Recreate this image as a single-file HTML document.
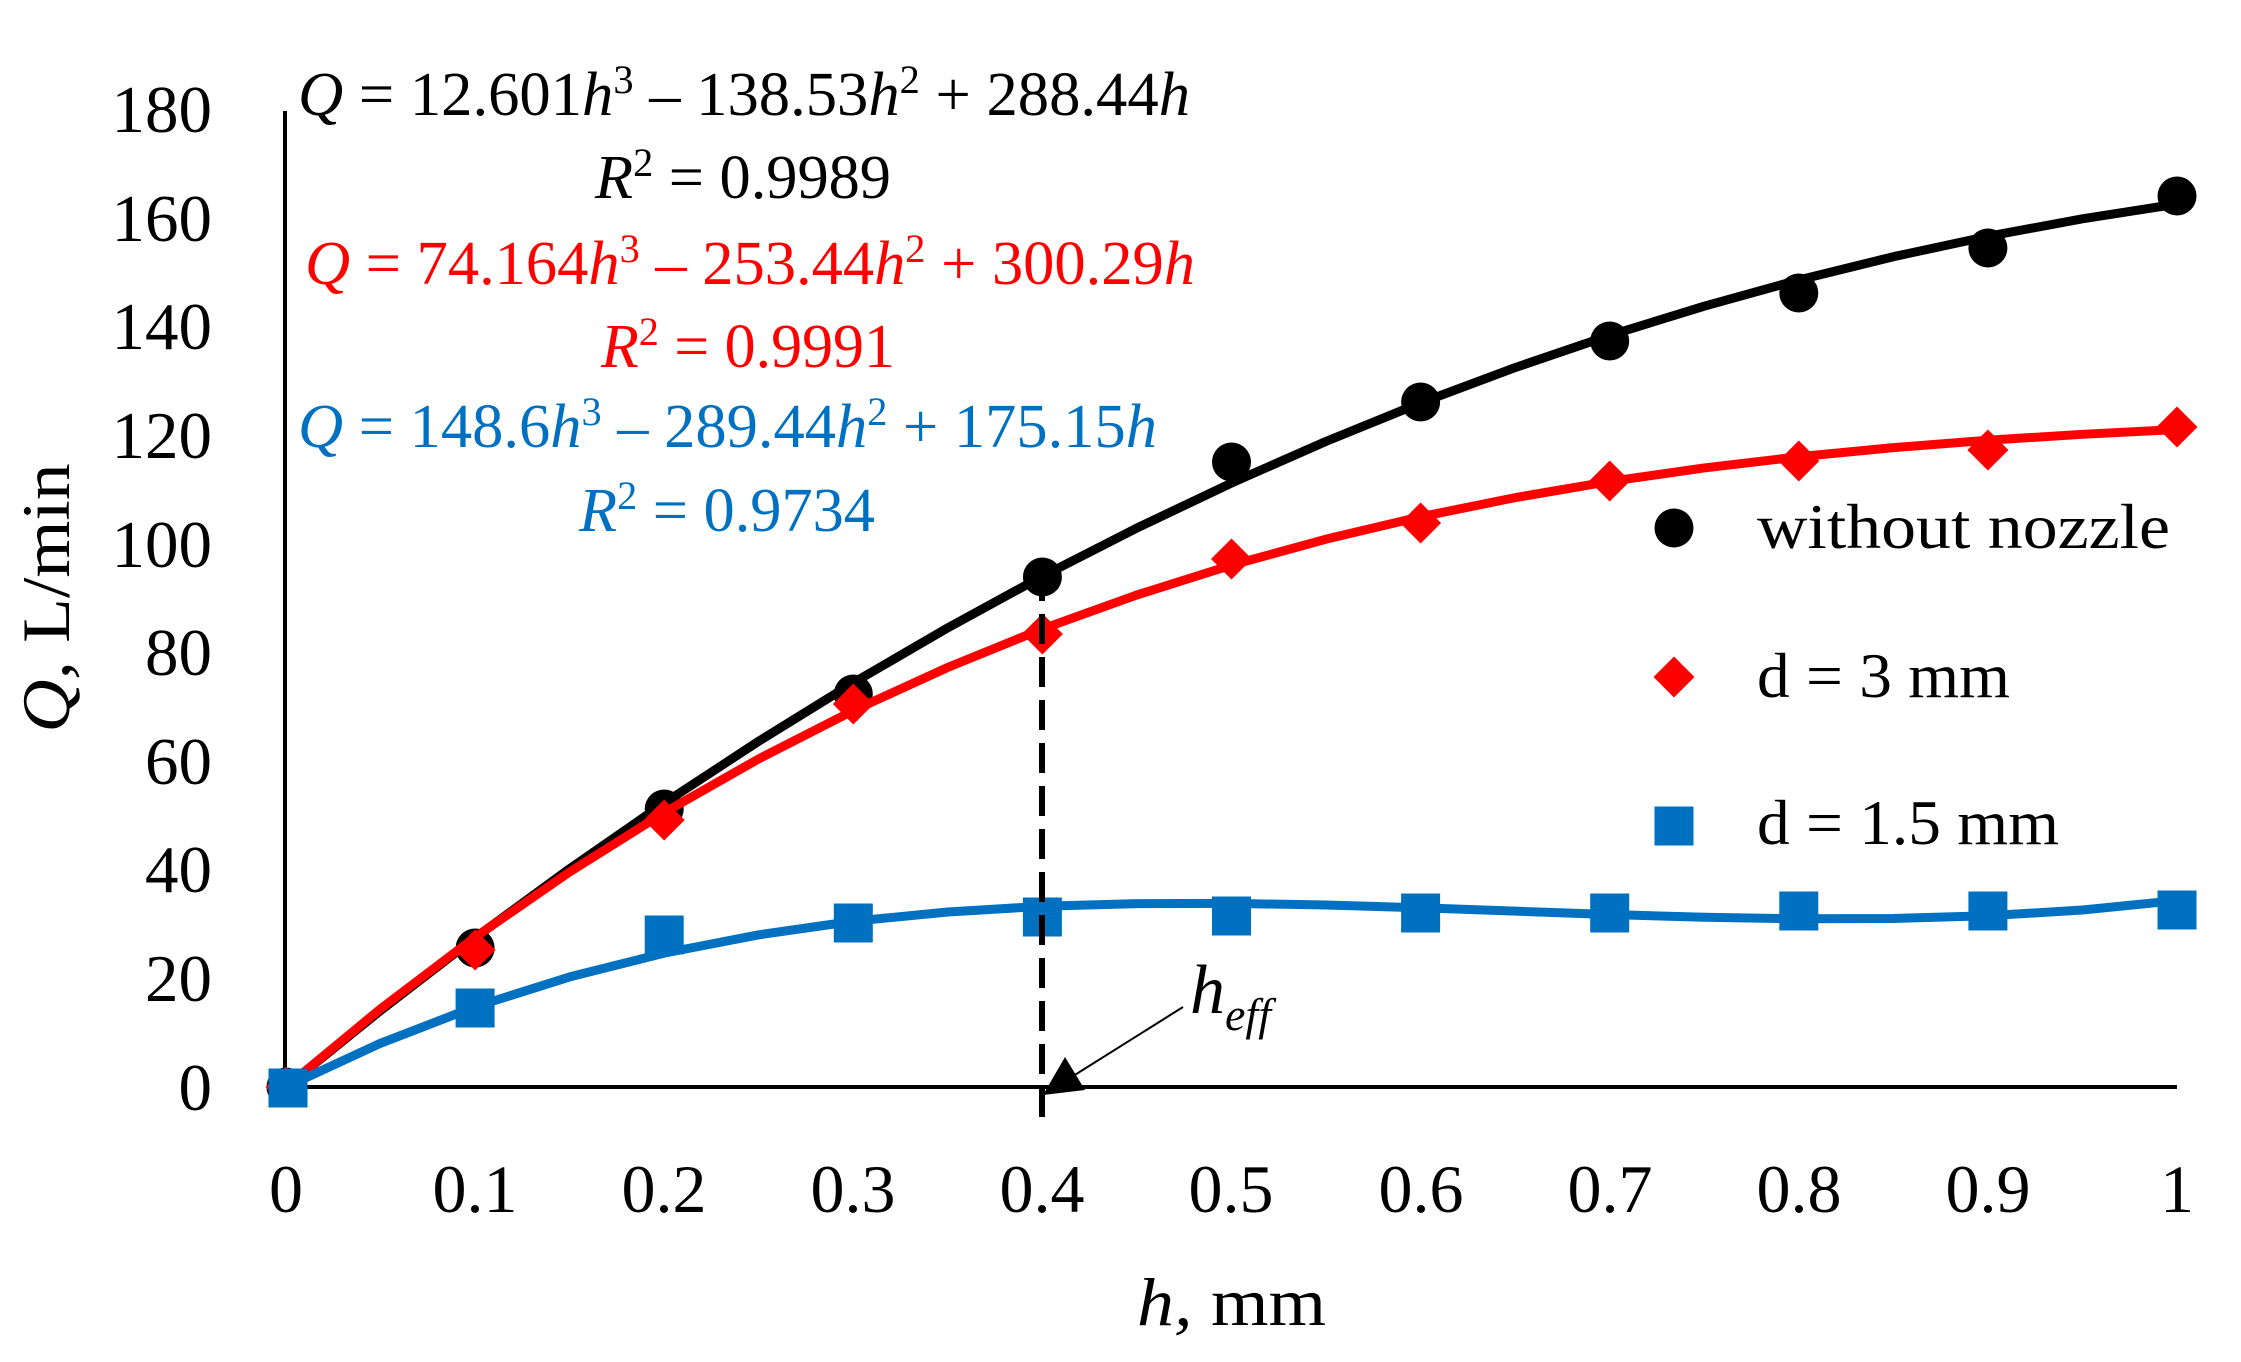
<!DOCTYPE html>
<html>
<head>
<meta charset="utf-8">
<style>
  html,body{margin:0;padding:0;background:#fff;}
  svg{display:block;}
  text{font-family:"Liberation Serif", serif;}
</style>
</head>
<body>
<svg width="2241" height="1362" viewBox="0 0 2241 1362" xmlns="http://www.w3.org/2000/svg">
  <defs>
    <path id="dia" d="M0,-20.5 L20.5,0 L0,20.5 L-20.5,0Z"/>
    <rect id="sq" x="-19.5" y="-19.5" width="39" height="39"/>
  </defs>
  <rect x="0" y="0" width="2241" height="1362" fill="#fff"/>

  <!-- axes -->
  <line x1="285" y1="111" x2="285" y2="1089" stroke="#000" stroke-width="4"/>
  <line x1="283" y1="1087" x2="2177" y2="1087" stroke="#000" stroke-width="4"/>

  <!-- y tick labels -->
  <g font-size="67" text-anchor="end" fill="#000">
    <text x="212" y="1110">0</text>
    <text x="212" y="1001">20</text>
    <text x="212" y="892">40</text>
    <text x="212" y="784">60</text>
    <text x="212" y="675">80</text>
    <text x="212" y="567">100</text>
    <text x="212" y="458">120</text>
    <text x="212" y="349">140</text>
    <text x="212" y="241">160</text>
    <text x="212" y="132">180</text>
  </g>

  <!-- x tick labels -->
  <g font-size="68" text-anchor="middle" fill="#000">
    <text x="286" y="1212">0</text>
    <text x="475" y="1212">0.1</text>
    <text x="664" y="1212">0.2</text>
    <text x="853" y="1212">0.3</text>
    <text x="1042" y="1212">0.4</text>
    <text x="1231" y="1212">0.5</text>
    <text x="1421" y="1212">0.6</text>
    <text x="1610" y="1212">0.7</text>
    <text x="1799" y="1212">0.8</text>
    <text x="1988" y="1212">0.9</text>
    <text x="2177" y="1212">1</text>
  </g>

  <!-- axis titles -->
  <text x="1137" y="1325" font-size="68" textLength="189" lengthAdjust="spacingAndGlyphs"><tspan font-style="italic">h,</tspan> mm</text>
  <text transform="translate(69,598) rotate(-90)" font-size="68" text-anchor="middle" textLength="269" lengthAdjust="spacingAndGlyphs"><tspan font-style="italic">Q,</tspan> L/min</text>

  <!-- equations -->
  <g font-size="62">
    <text x="298" y="115" fill="#000" textLength="892" lengthAdjust="spacingAndGlyphs"><tspan font-style="italic">Q</tspan> = 12.601<tspan font-style="italic">h</tspan><tspan font-size="40" dy="-22">3</tspan><tspan dy="22"> – 138.53</tspan><tspan font-style="italic">h</tspan><tspan font-size="40" dy="-22">2</tspan><tspan dy="22"> + 288.44</tspan><tspan font-style="italic">h</tspan></text>
    <text x="595" y="198" fill="#000" textLength="296" lengthAdjust="spacingAndGlyphs"><tspan font-style="italic">R</tspan><tspan font-size="40" dy="-22">2</tspan><tspan dy="22"> = 0.9989</tspan></text>

    <text x="305" y="284" fill="#FF0000" textLength="890" lengthAdjust="spacingAndGlyphs"><tspan font-style="italic">Q</tspan> = 74.164<tspan font-style="italic">h</tspan><tspan font-size="40" dy="-22">3</tspan><tspan dy="22"> – 253.44</tspan><tspan font-style="italic">h</tspan><tspan font-size="40" dy="-22">2</tspan><tspan dy="22"> + 300.29</tspan><tspan font-style="italic">h</tspan></text>
    <text x="601" y="367" fill="#FF0000" textLength="294" lengthAdjust="spacingAndGlyphs"><tspan font-style="italic">R</tspan><tspan font-size="40" dy="-22">2</tspan><tspan dy="22"> = 0.9991</tspan></text>

    <text x="298" y="447" fill="#0070C0" textLength="859" lengthAdjust="spacingAndGlyphs"><tspan font-style="italic">Q</tspan> = 148.6<tspan font-style="italic">h</tspan><tspan font-size="40" dy="-22">3</tspan><tspan dy="22"> – 289.44</tspan><tspan font-style="italic">h</tspan><tspan font-size="40" dy="-22">2</tspan><tspan dy="22"> + 175.15</tspan><tspan font-style="italic">h</tspan></text>
    <text x="579" y="531" fill="#0070C0" textLength="296" lengthAdjust="spacingAndGlyphs"><tspan font-style="italic">R</tspan><tspan font-size="40" dy="-22">2</tspan><tspan dy="22"> = 0.9734</tspan></text>
  </g>

  <!-- black series -->
  <polyline fill="none" stroke="#000" stroke-width="9" stroke-linejoin="round" stroke-linecap="round"
    points="286,1087 380.55,1010.52 475.1,937.75 569.65,868.64 664.2,803.14 758.75,741.2 853.3,682.76 947.85,627.78 1042.4,576.2 1136.95,527.98 1231.5,483.05 1326.05,441.38 1420.6,402.9 1515.15,367.58 1609.7,335.34 1704.25,306.15 1798.8,279.96 1893.35,256.7 1987.9,236.34 2082.45,218.81 2177,204.08"/>
  <g fill="#000">
    <circle cx="286" cy="1087" r="19.5"/>
    <circle cx="475.1" cy="948" r="19.5"/>
    <circle cx="664.2" cy="809" r="19.5"/>
    <circle cx="853.3" cy="694" r="19.5"/>
    <circle cx="1042.4" cy="577" r="19.5"/>
    <circle cx="1231.5" cy="462" r="19.5"/>
    <circle cx="1420.6" cy="402" r="19.5"/>
    <circle cx="1609.7" cy="341" r="19.5"/>
    <circle cx="1798.8" cy="293" r="19.5"/>
    <circle cx="1987.9" cy="248" r="19.5"/>
    <circle cx="2177" cy="196" r="19.5"/>
  </g>

  <!-- red series -->
  <polyline fill="none" stroke="#FF0000" stroke-width="9" stroke-linejoin="round" stroke-linecap="round"
    points="286,1087 380.55,1008.82 475.1,937.22 569.65,871.9 664.2,812.56 758.75,758.89 853.3,710.6 947.85,667.38 1042.4,628.93 1136.95,594.95 1231.5,565.13 1326.05,539.17 1420.6,516.78 1515.15,497.64 1609.7,481.46 1704.25,467.93 1798.8,456.76 1893.35,447.63 1987.9,440.26 2082.45,434.32 2177,429.53"/>
  <g fill="#FF0000">
    <use href="#dia" x="286" y="1087"/>
    <use href="#dia" x="475.1" y="950"/>
    <use href="#dia" x="664.2" y="820"/>
    <use href="#dia" x="853.3" y="704"/>
    <use href="#dia" x="1042.4" y="634"/>
    <use href="#dia" x="1231.5" y="559"/>
    <use href="#dia" x="1420.6" y="523"/>
    <use href="#dia" x="1609.7" y="481"/>
    <use href="#dia" x="1798.8" y="461"/>
    <use href="#dia" x="1987.9" y="450"/>
    <use href="#dia" x="2177" y="427"/>
  </g>

  <!-- blue series -->
  <polyline fill="none" stroke="#0070C0" stroke-width="9" stroke-linejoin="round" stroke-linecap="round"
    points="286,1087 380.55,1043.25 475.1,1006.76 569.65,976.92 664.2,953.13 758.75,934.77 853.3,921.25 947.85,911.96 1042.4,906.3 1136.95,903.65 1231.5,903.42 1326.05,904.99 1420.6,907.77 1515.15,911.14 1609.7,914.51 1704.25,917.26 1798.8,918.79 1893.35,918.49 1987.9,915.76 2082.45,910 2177,900.59"/>
  <g fill="#0070C0">
    <use href="#sq" x="288" y="1088"/>
    <use href="#sq" x="475.1" y="1008"/>
    <use href="#sq" x="664.2" y="935"/>
    <use href="#sq" x="853.3" y="923"/>
    <use href="#sq" x="1042.4" y="917"/>
    <use href="#sq" x="1231.5" y="916"/>
    <use href="#sq" x="1420.6" y="913"/>
    <use href="#sq" x="1609.7" y="913"/>
    <use href="#sq" x="1798.8" y="911"/>
    <use href="#sq" x="1987.9" y="911"/>
    <use href="#sq" x="2177" y="910"/>
  </g>

  <!-- dashed h_eff line -->
  <line x1="1042" y1="1117" x2="1042" y2="580" stroke="#000" stroke-width="6" stroke-dasharray="30 13"/>

  <!-- h_eff annotation -->
  <line x1="1183" y1="1007" x2="1070" y2="1078" stroke="#000" stroke-width="2"/>
  <polygon points="1043,1095 1065,1057 1085,1090" fill="#000"/>
  <text x="1190" y="1013" font-size="70" font-style="italic">h<tspan font-size="46" dy="17">eff</tspan></text>

  <!-- legend -->
  <circle cx="1674" cy="528" r="19.5" fill="#000"/>
  <use href="#dia" x="1674" y="677" fill="#FF0000"/>
  <use href="#sq" x="1674" y="826" fill="#0070C0"/>
  <g font-size="64" fill="#000">
    <text x="1757" y="548" textLength="413" lengthAdjust="spacingAndGlyphs">without nozzle</text>
    <text x="1757" y="697" textLength="253" lengthAdjust="spacingAndGlyphs">d = 3 mm</text>
    <text x="1757" y="844" textLength="302" lengthAdjust="spacingAndGlyphs">d = 1.5 mm</text>
  </g>
</svg>
</body>
</html>
